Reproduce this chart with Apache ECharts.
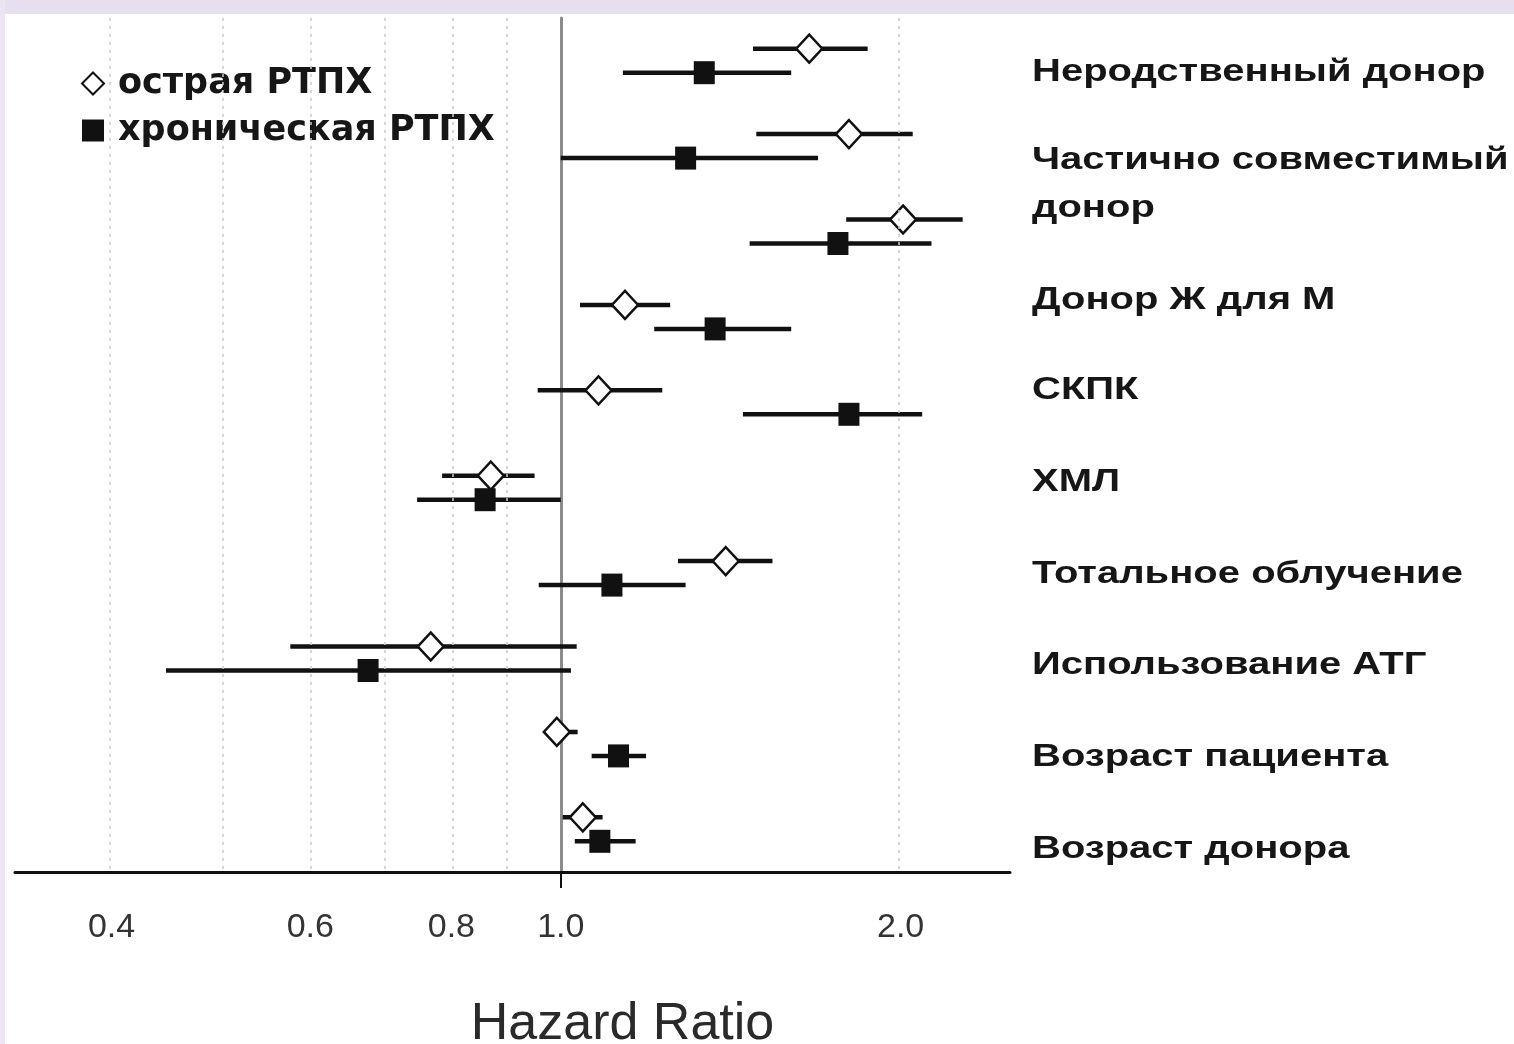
<!DOCTYPE html>
<html>
<head>
    <meta charset="UTF-8">
    <title>Hazard Ratio — острая и хроническая РТПХ</title>
    <script src="https://cdn.jsdelivr.net/npm/echarts@6/dist/echarts.min.js"></script>
    <style>html, body { margin: 0; padding: 0; background: #fff; }</style>
</head>
<body>
    <div id="main" style="width: 1514px;height:1044px;"></div>
    <script type="text/javascript">
        var myChart = echarts.init(document.getElementById('main'));

        // строки графика (10 пар точек)
        var rows = ['Неродственный донор', 'Частично совместимый', 'донор', 'Донор Ж для М', 'СКПК',
            'ХМЛ', 'Тотальное облучение', 'Использование АТГ', 'Возраст пациента', 'Возраст донора'];

        // острая РТПХ: HR и доверительный интервал
        var acuteHR = [1.66, 1.80, 2.01, 1.14, 1.08, 0.867, 1.40, 0.767, 0.992, 1.046];
        var acuteLo = [1.48, 1.49, 1.79, 1.04, 0.954, 0.785, 1.27, 0.576, 0.968, 1.004];
        var acuteHi = [1.87, 2.05, 2.27, 1.25, 1.23, 0.948, 1.54, 1.033, 1.035, 1.089];

        // хроническая РТПХ
        var chronicHR = [1.34, 1.29, 1.76, 1.37, 1.80, 0.857, 1.11, 0.675, 1.125, 1.083];
        var chronicLo = [1.135, 1.00, 1.47, 1.21, 1.45, 0.746, 0.956, 0.447, 1.065, 1.029];
        var chronicHi = [1.60, 1.69, 2.13, 1.60, 2.09, 1.00, 1.29, 1.021, 1.19, 1.165];

        var tickLabels = [0.4, 0.6, 0.8, 1.0, 2.0];
        var gridLines = [0.4, 0.5, 0.6, 0.7, 0.8, 0.9, 2.0];
        var axisMin = 0.3285, axisMax = 2.5;

        // подписи справа (вертикальная позиция текста, px)
        var labelY = [72, 160, 208, 300, 390, 482, 574, 665, 757, 849];

        var ln = Math.log;

        function whiskers(lo, hi, dy) {
            return {
                type: 'custom',
                silent: true,
                z: 2,
                data: lo.map(function (v, i) { return [ln(v), ln(hi[i]), i]; }),
                encode: { x: [0, 1], y: 2 },
                renderItem: function (params, api) {
                    var a = api.coord([api.value(0), api.value(2)]);
                    var b = api.coord([api.value(1), api.value(2)]);
                    return {
                        type: 'line',
                        shape: { x1: a[0], y1: a[1] + dy, x2: b[0], y2: b[1] + dy },
                        style: { stroke: '#111', lineWidth: 4.5 }
                    };
                }
            };
        }

        var option = {
            backgroundColor: '#fff',
            animation: false,
            grid: { left: 15, right: 504, top: 18, bottom: 172, outerBoundsMode: 'none', containLabel: false },
            legend: {
                orient: 'vertical',
                left: 76,
                top: 61,
                itemWidth: 22,
                itemHeight: 22,
                itemGap: 12,
                data: ['острая РТПХ', 'хроническая РТПХ'],
                textStyle: {
                    fontFamily: 'DejaVu Sans',
                    fontWeight: 'bold',
                    fontSize: 35,
                    color: '#161616',
                    padding: [0, 0, 0, 9]
                }
            },
            xAxis: {
                type: 'value',
                min: ln(axisMin),
                max: ln(axisMax),
                axisLine: { show: true, onZero: false, lineStyle: { color: '#111', width: 3 } },
                axisTick: { show: true, customValues: [0], length: 16, lineStyle: { color: '#111', width: 2 } },
                splitLine: { show: false },
                axisLabel: {
                    customValues: tickLabels.map(ln),
                    formatter: function (v) { return Math.exp(v).toFixed(1); },
                    margin: 39,
                    fontFamily: 'Liberation Sans',
                    fontSize: 34,
                    color: '#333'
                },
                name: 'Hazard Ratio',
                nameLocation: 'middle',
                nameGap: 127,
                nameTextStyle: {
                    fontFamily: 'Liberation Sans',
                    fontSize: 52,
                    color: '#2a2a2a',
                    padding: [0, 0, 0, 220]
                }
            },
            yAxis: {
                type: 'category',
                inverse: true,
                data: rows,
                axisLine: { show: true, onZero: true, lineStyle: { color: '#8c8c8c', width: 3 } },
                axisTick: { show: false },
                axisLabel: { show: false },
                splitLine: { show: false }
            },
            graphic: rows.map(function (name, i) {
                return {
                    type: 'text',
                    x: 1032,
                    y: labelY[i],
                    scaleX: 1.25,
                    style: {
                        text: name,
                        fontFamily: 'Liberation Sans',
                        fontWeight: 'bold',
                        fontSize: 32,
                        fill: '#161616',
                        verticalAlign: 'middle'
                    }
                };
            }).concat([
                { type: 'rect', left: 0, top: 0, shape: { width: 1514, height: 14 }, style: { fill: '#e6dff0' }, z: -1 },
                { type: 'rect', left: 0, top: 0, shape: { width: 5, height: 1044 }, style: { fill: '#ebe4f3' }, z: -1 }
            ]),
            series: [
                {
                    // пунктирная сетка
                    type: 'line',
                    data: [],
                    z: 1,
                    silent: true,
                    markLine: {
                        silent: true,
                        symbol: 'none',
                        label: { show: false },
                        lineStyle: { type: [3, 5], color: '#c9c9c9', width: 1.5 },
                        data: gridLines.map(function (v) { return { xAxis: ln(v) }; })
                    }
                },
                whiskers(acuteLo, acuteHi, -12),
                whiskers(chronicLo, chronicHi, 12),
                {
                    name: 'острая РТПХ',
                    type: 'scatter',
                    z: 4,
                    symbol: 'diamond',
                    symbolSize: [26, 28],
                    symbolOffset: [0, -12],
                    itemStyle: { color: '#fff', borderColor: '#111', borderWidth: 2.5, opacity: 1 },
                    data: acuteHR.map(function (v, i) { return [ln(v), i]; })
                },
                {
                    name: 'хроническая РТПХ',
                    type: 'scatter',
                    z: 4,
                    symbol: 'rect',
                    symbolSize: [21, 23],
                    symbolOffset: [0, 12],
                    itemStyle: { color: '#111', opacity: 1 },
                    data: chronicHR.map(function (v, i) { return [ln(v), i]; })
                }
            ]
        };

        myChart.setOption(option);
    </script>
</body>
</html>
